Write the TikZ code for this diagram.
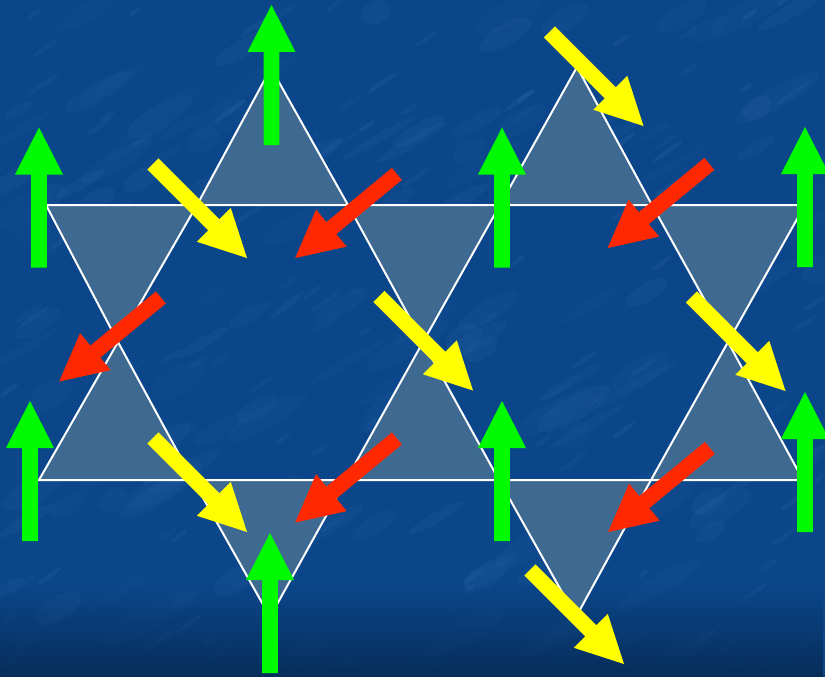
\documentclass[tikz,border=0pt]{standalone}
\usetikzlibrary{fadings}
\definecolor{bgA}{RGB}{12,70,138}
\definecolor{bgDark}{RGB}{6,46,90}
\definecolor{streak}{RGB}{90,150,215}
\definecolor{triC}{RGB}{62,106,146}
\definecolor{grn}{RGB}{0,250,0}
\definecolor{yel}{RGB}{255,255,0}
\definecolor{redA}{RGB}{255,40,0}
\tikzset{
  tri/.style={fill=triC, draw=white, line width=2pt, line join=miter},
}
\newcommand{\spinarrow}[5]{%
  \begin{scope}[shift={(#1,#2)},rotate=#3]
    \fill[#5] ({-#4/2},-7.8) -- ({#4/2-47},-7.8) -- ({#4/2-47},-24) -- ({#4/2},0)
      -- ({#4/2-47},24) -- ({#4/2-47},7.8) -- ({-#4/2},7.8) -- cycle;
  \end{scope}}
\begin{document}
\begin{tikzpicture}[x=1pt,y=-1pt]
\useasboundingbox (0,0) rectangle (825,677);
\begin{scope}
\clip (0,0) rectangle (825,677);
% background
\fill[bgA] (0,0) rectangle (825,677);
\pgfmathsetseed{11}
\foreach \i in {1,...,140}{
  \pgfmathsetmacro\xx{rnd*825}
  \pgfmathsetmacro\yy{rnd*677}
  \pgfmathsetmacro\rr{15+rnd*35}
  \pgfmathsetmacro\rs{4+rnd*10}
  \pgfmathsetmacro\op{0.025+rnd*0.05}
  \fill[streak, opacity=\op, rotate around={30:(\xx,\yy)}] (\xx,\yy) ellipse ({\rr} and {\rs});
}
\foreach \i in {1,...,120}{
  \pgfmathsetmacro\xx{rnd*825}
  \pgfmathsetmacro\yy{rnd*677}
  \pgfmathsetmacro\rr{6+rnd*14}
  \pgfmathsetmacro\op{0.04+rnd*0.07}
  \fill[streak, opacity=\op, rotate around={35:(\xx,\yy)}] (\xx,\yy) ellipse ({\rr} and 2.5);
}
\fill[bgDark, path fading=north] (0,585) rectangle (825,677);
% lattice vertices
\coordinate (T1) at (271,68);  \coordinate (T2) at (577,67);
\coordinate (A0) at (46,205);  \coordinate (A1) at (197,205); \coordinate (A2) at (348,205);
\coordinate (A3) at (500,205); \coordinate (A4) at (652,205); \coordinate (A5) at (805,205);
\coordinate (M1) at (118,342); \coordinate (M2) at (423,342); \coordinate (M3) at (728,342);
\coordinate (B0) at (39,480);  \coordinate (B1) at (193,480); \coordinate (B2) at (346,480);
\coordinate (B3) at (499,480); \coordinate (B4) at (651,480); \coordinate (B5) at (803,480);
\coordinate (D1) at (270,617); \coordinate (D2) at (576,617);
% triangles
\draw[tri] (A1) -- (A2) -- (T1) -- cycle;
\draw[tri] (A3) -- (A4) -- (T2) -- cycle;
\draw[tri] (A0) -- (A1) -- (M1) -- cycle;
\draw[tri] (A2) -- (A3) -- (M2) -- cycle;
\draw[tri] (A4) -- (A5) -- (M3) -- cycle;
\draw[tri] (B0) -- (B1) -- (M1) -- cycle;
\draw[tri] (B2) -- (B3) -- (M2) -- cycle;
\draw[tri] (B4) -- (B5) -- (M3) -- cycle;
\draw[tri] (B1) -- (B2) -- (D1) -- cycle;
\draw[tri] (B3) -- (B4) -- (D2) -- cycle;
% yellow spins
\spinarrow{596.5}{79}{-45}{133}{yel}
\spinarrow{200}{211}{-45}{133}{yel}
\spinarrow{426}{343.5}{-45}{133}{yel}
\spinarrow{738.5}{344}{-45}{133}{yel}
\spinarrow{200}{485}{-45}{133}{yel}
\spinarrow{577}{617}{-45}{133}{yel}
% red spins
\spinarrow{346}{216}{219.6}{132}{redA}
\spinarrow{658.5}{206}{219.6}{132}{redA}
\spinarrow{110}{339.5}{219.6}{132}{redA}
\spinarrow{346}{480.5}{219.6}{132}{redA}
\spinarrow{659}{490}{219.6}{132}{redA}
% green spins
\spinarrow{271.5}{75}{90}{140}{grn}
\spinarrow{39}{197.5}{90}{140}{grn}
\spinarrow{502}{197.5}{90}{140}{grn}
\spinarrow{805}{197}{90}{140}{grn}
\spinarrow{30}{471}{90}{140}{grn}
\spinarrow{502}{471}{90}{140}{grn}
\spinarrow{805}{462}{90}{140}{grn}
\spinarrow{270}{603}{90}{140}{grn}
\end{scope}
\end{tikzpicture}
\end{document}
